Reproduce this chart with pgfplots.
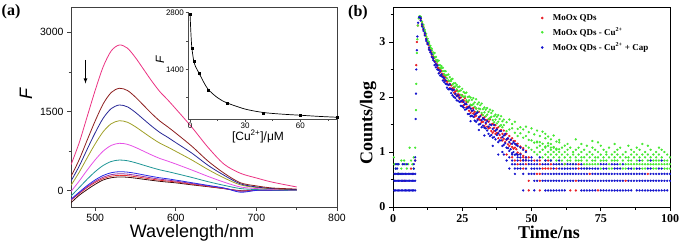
\documentclass[border=0pt]{standalone}
\usepackage{fontspec}
\setmainfont{Liberation Serif}
\newfontfamily\arial{Liberation Sans}
\usepackage{graphicx}
\usepackage{pgfplots}
\pgfplotsset{compat=1.18}
\usepackage{pgfplotstable}

\definecolor{c1}{RGB}{235,50,130}
\definecolor{c2}{RGB}{140,30,30}
\definecolor{c3}{RGB}{40,40,150}
\definecolor{c4}{RGB}{160,160,40}
\definecolor{c5}{RGB}{230,80,230}
\definecolor{c6}{RGB}{30,150,150}
\definecolor{c7}{RGB}{40,40,230}
\definecolor{c8}{RGB}{150,50,160}
\definecolor{c9}{RGB}{230,50,50}
\definecolor{c10}{RGB}{60,10,10}
\definecolor{mred}{RGB}{232,28,36}
\definecolor{mgreen}{RGB}{70,232,50}
\definecolor{mblue}{RGB}{20,20,205}

\pgfplotstableread{
w p1 p2 p3 p4 p5 p6 p7 p8 p9 p10
470 490 267 181 100 -16 -102 -162 -173 -181 -230
480 900 582 459 344 178 55 -31 -46 -58 -90
490 1400 955 782 620 388 215 95 74 58 20
500 1900 1321 1097 886 584 360 204 176 155 120
510 2350 1646 1374 1118 750 478 288 255 229 203
520 2650 1861 1556 1269 858 553 340 303 274 245
530 2760 1940 1623 1325 897 580 359 320 290 260
540 2700 1898 1588 1296 878 567 351 313 284 254
550 2520 1772 1482 1210 819 529 328 292 265 237
560 2300 1617 1352 1104 748 483 299 267 242 216
570 2080 1462 1223 998 676 437 270 241 218 196
580 1880 1322 1105 902 611 395 244 218 197 177
590 1720 1209 1011 826 559 361 224 200 181 162
600 1550 1090 910 745 505 325 200 180 165 148
620 1200 840 710 580 390 250 150 135 122 110
640 820 560 480 400 270 170 100 90 82 75
660 500 330 290 240 160 100 50 45 40 38
680 330 150 130 110 70 40 -30 -10 -5 0
700 240 90 70 60 40 20 5 5 5 5
720 160 50 40 35 25 15 10 8 8 8
750 70 30 20 15 10 5 5 5 5 5
}\spectra

\pgfplotstableread{
t a b
10 3.44 3.40
10.5 3.34 3.30
11 3.27 3.23
11.5 3.17 3.13
12 3.10 3.06
12.5 2.99 2.97
13 2.94 2.89
13.5 2.86 2.84
14 2.81 2.77
14.5 2.74 2.70
15 2.71 2.65
15.5 2.64 2.59
16 2.59 2.53
16.5 2.53 2.50
17 2.51 2.45
17.5 2.47 2.40
18 2.42 2.38
18.5 2.38 2.31
19 2.36 2.30
19.5 2.29 2.25
20 2.29 2.22
20.5 2.24 2.16
21 2.21 2.14
21.5 2.16 2.14
22 2.17 2.08
22.5 2.10 2.05
23 2.12 2.02
23.5 2.05 2.01
24 2.04 1.97
24.5 1.99 1.92
25 2.03 1.91
25.5 1.94 1.85
26 1.98 1.87
26.5 1.91 1.81
27 1.91 1.82
27.5 1.83 1.75
28 1.85 1.71
28.5 1.79 1.74
29 1.80 1.70
29.5 1.73 1.64
30 1.79 1.66
30.5 1.72 1.60
31 1.73 1.60
31.5 1.65 1.58
32 1.68 1.54
32.5 1.62 1.55
33 1.63 1.47
33.5 1.58 1.51
34 1.58 1.46
34.5 1.55 1.43
35 1.59 1.44
35.5 1.50 1.38
36 1.51 1.35
36.5 1.44 1.38
37 1.49 1.33
37.5 1.43 1.35
38 1.45 1.25
38.5 1.38 1.31
39 1.40 1.26
39.5 1.33 1.21
40 1.39 1.24
40.5 1.31 1.18
41 1.33 1.22
41.5 1.24 1.14
42 1.29 1.11
42.5 1.22 1.15
43 1.25 1.09
43.5 1.20 1.06
44 1.20 1.08
44.5 1.14 1.05
45 1.15 0.99
46 1.10 0.97
47 1.07 0.93
48 1.02 0.90
}\redD

\pgfplotstableread{
t a b
10 3.46 3.43
10.5 3.37 3.33
11 3.31 3.26
11.5 3.22 3.19
12 3.15 3.10
12.5 3.06 3.02
13 3.00 2.97
13.5 2.93 2.90
14 2.88 2.85
14.5 2.81 2.77
15 2.80 2.72
15.5 2.73 2.67
16 2.67 2.64
16.5 2.66 2.58
17 2.58 2.53
17.5 2.56 2.52
18 2.53 2.47
18.5 2.47 2.41
19 2.47 2.39
19.5 2.40 2.34
20 2.41 2.30
20.5 2.36 2.29
21 2.32 2.29
21.5 2.33 2.23
22 2.25 2.19
22.5 2.25 2.19
23 2.22 2.14
23.5 2.18 2.10
24 2.19 2.11
24.5 2.12 2.04
25 2.15 2.02
25.5 2.09 2.00
26 2.07 2.01
26.5 2.08 1.94
27 2.00 1.91
27.5 2.01 1.94
28 1.99 1.86
28.5 1.95 1.85
29 1.98 1.87
29.5 1.90 1.82
30 1.96 1.79
30.5 1.87 1.74
31 1.90 1.79
31.5 1.85 1.78
32 1.88 1.71
32.5 1.78 1.67
33 1.81 1.72
33.5 1.77 1.65
34 1.80 1.68
34.5 1.73 1.60
35 1.77 1.62
35.5 1.71 1.64
36 1.75 1.58
36.5 1.65 1.54
37 1.68 1.59
37.5 1.64 1.52
38 1.67 1.55
38.5 1.60 1.47
39 1.65 1.49
39.5 1.56 1.45
40 1.59 1.49
41 1.54 1.38
42 1.59 1.41
43 1.51 1.43
44 1.55 1.35
45 1.42 1.29
46 1.45 1.34
47 1.41 1.26
48 1.46 1.29
49 1.36 1.22
50 1.43 1.21
51 1.32 1.17
52 1.39 1.19
53 1.29 1.18
54 1.37 1.15
55 1.25 1.10
56 1.28 1.16
57 1.23 1.08
58 1.30 1.09
59 1.19 1.06
60 1.22 1.05
}\greenD

\pgfplotstableread{
t a b
10 3.43 3.39
10.5 3.32 3.28
11 3.24 3.20
11.5 3.16 3.12
12 3.05 3.02
12.5 2.98 2.96
13 2.90 2.86
13.5 2.84 2.81
14 2.78 2.73
14.5 2.71 2.67
15 2.64 2.58
15.5 2.60 2.54
16 2.57 2.50
16.5 2.49 2.43
17 2.47 2.39
17.5 2.41 2.38
18 2.36 2.30
18.5 2.34 2.27
19 2.30 2.24
19.5 2.23 2.17
20 2.22 2.14
20.5 2.23 2.14
21 2.15 2.07
21.5 2.12 2.03
22 2.13 2.00
22.5 2.06 1.98
23 2.02 1.94
23.5 2.03 1.93
24 1.99 1.91
24.5 1.92 1.84
25 1.94 1.83
25.5 1.91 1.81
26 1.87 1.77
26.5 1.87 1.78
27 1.80 1.69
27.5 1.82 1.69
28 1.79 1.65
28.5 1.75 1.66
29 1.76 1.64
29.5 1.68 1.57
30 1.70 1.55
30.5 1.72 1.58
31 1.63 1.50
31.5 1.65 1.51
32 1.58 1.45
32.5 1.61 1.48
33 1.59 1.44
33.5 1.53 1.43
34 1.56 1.39
34.5 1.46 1.33
35 1.50 1.29
35.5 1.49 1.31
36 1.42 1.26
36.5 1.49 1.27
37 1.39 1.23
37.5 1.41 1.31
38 1.34 1.18
38.5 1.38 1.21
39 1.38 1.21
39.5 1.27 1.11
40 1.30 1.13
40.5 1.33 1.16
41 1.23 1.08
41.5 1.25 1.07
42 1.18 1.02
42.5 1.22 1.05
43 1.15 0.98
43.5 1.18 1.00
44 1.15 0.95
44.5 1.13 0.96
45 1.11 0.95
46 1.08 0.90
47 1.04 0.85
48 1.00 0.85
}\blueD

\begin{document}
\begin{tikzpicture}[x=1pt,y=1pt]
\path[use as bounding box] (0pt,0pt) rectangle (680pt,242pt);

% ---------------- panel (a) ----------------
\begin{axis}[at={(71pt,35pt)}, anchor=south west, scale only axis,
  width=266pt, height=200pt,
  xmin=470, xmax=800, ymin=-310, ymax=3480,
  xtick={500,600,700,800}, minor xtick={550,650,750},
  ytick={0,1500,3000}, minor ytick={750,2250},
  tick align=outside, tick pos=left,
  major tick length=4pt, minor tick length=2.5pt,
  axis line style={black!75, line width=0.6pt},
  every tick/.style={black!75, line width=0.6pt},
  ticklabel style={font=\arial\fontsize{10.5}{12}\selectfont},
  /pgf/number format/assume math mode=true,
  /pgf/number format/1000 sep={}, scaled ticks=false]
\addplot[smooth, c10, line width=0.8pt] table[x=w,y=p10]{\spectra};
\addplot[smooth, c9, line width=0.8pt] table[x=w,y=p9]{\spectra};
\addplot[smooth, c8, line width=0.8pt] table[x=w,y=p8]{\spectra};
\addplot[smooth, c7, line width=0.8pt] table[x=w,y=p7]{\spectra};
\addplot[smooth, c6, line width=0.8pt] table[x=w,y=p6]{\spectra};
\addplot[smooth, c5, line width=0.8pt] table[x=w,y=p5]{\spectra};
\addplot[smooth, c4, line width=0.8pt] table[x=w,y=p4]{\spectra};
\addplot[smooth, c3, line width=0.8pt] table[x=w,y=p3]{\spectra};
\addplot[smooth, c2, line width=0.8pt] table[x=w,y=p2]{\spectra};
\addplot[smooth, c1, line width=0.8pt] table[x=w,y=p1]{\spectra};
\draw[-latex, line width=0.8pt] (axis cs:488,2480) -- (axis cs:488,2030);
\end{axis}

% inset
\begin{axis}[at={(188pt,123pt)}, anchor=south west, scale only axis,
  width=150pt, height=107.5pt,
  xmin=-1.1, xmax=80.5, ymin=175, ymax=2830,
  axis lines=left, axis line style={-, black!70, line width=0.6pt},
  xtick={0,30,60}, minor xtick={15,45,75},
  ytick={1400,2800}, minor ytick={700,2100},
  tick align=outside, major tick length=2.5pt, minor tick length=1.8pt,
  every tick/.style={black!70, line width=0.5pt},
  ticklabel style={font=\arial\fontsize{8}{9}\selectfont, inner sep=1.5pt},
  /pgf/number format/assume math mode=true,
  /pgf/number format/1000 sep={}, scaled ticks=false, clip=false]
\addplot[smooth, tension=0.5, black, line width=0.7pt] coordinates {
(0,2780)(0.5,2280)(1,1930)(2,1620)(3,1470)(5,1300)(7.5,1080)(10,900)(15,700)(20,575)(30,420)(40,335)(50,295)(60,268)(70,240)(80,218)};
\addplot[only marks, mark=square*, mark size=1pt, black] coordinates {
(0,2768)(1,1920)(2,1606)(5,1316)(10,891)(20,577)(40,328)(60,271)(80,214)};
\end{axis}

\node[font=\arial\fontsize{12}{13}\selectfont, anchor=base] at (258pt,102pt) {[Cu\textsuperscript{2+}]/μM};
\node[font=\arial\itshape\fontsize{12}{12}\selectfont, rotate=90] at (160pt,182pt) {F};
\node[font=\arial\itshape\fontsize{18}{18}\selectfont, rotate=90] at (26pt,148pt) {F};
\node[font=\arial\fontsize{18}{18}\selectfont, anchor=base] at (192pt,5pt) {Wavelength/nm};
\node[font=\bfseries\fontsize{16}{16}\selectfont] at (11pt,230pt) {(a)};

% ---------------- panel (b) ----------------
\begin{axis}[at={(393pt,35pt)}, anchor=south west, scale only axis,
  width=277pt, height=200pt,
  xmin=0, xmax=100, ymin=0, ymax=3.636,
  xtick={0,25,50,75,100}, minor xtick={12.5,37.5,62.5,87.5},
  ytick={0,1,2,3}, minor ytick={0.5,1.5,2.5,3.5},
  tick align=outside, tick pos=left,
  major tick length=4pt, minor tick length=2.5pt,
  axis line style={line width=0.8pt},
  every tick/.style={black, line width=0.8pt},
  ticklabel style={font=\bfseries\fontsize{12}{14}\selectfont},
  /pgf/number format/assume math mode=true,
  legend style={at={(0.525,0.975)}, anchor=north west, draw=none, fill=none,
    font=\bfseries\fontsize{9}{11}\selectfont, row sep=2pt, inner sep=0pt},
  legend cell align=left,
  legend image code/.code={\path (0,0) (0.42cm,0); \draw[#1, mark size=1.1pt] plot coordinates {(0.12cm,0cm)};},
  every axis plot/.append style={only marks, mark=*, mark size=0.95pt}]
% red
\addplot[mred, mark options={draw=mred, fill=mred}] table[x=t,y=a]{\redD};
\addlegendentry{MoOx QDs}
\addplot[mred, forget plot] table[x=t,y=b]{\redD};
\addplot[mred, forget plot] coordinates {
(2,.602)(4,.477)(6.5,.699)(7,.602)(8,.845)(8.4,2.58)(8.6,3.0)(9,3.3)(9.4,3.44)(9.7,3.46)
(49,.301)(53,.301)(64,.301)(66,.301)(74,.301)
(49,.477)(53,.477)(66,.477)(84,.477)
(52,.602)(53,.602)(71,.602)(92,.602)
(47,.699)(54,.699)(55,.699)(56,.699)(57,.699)(59,.699)(67,.699)
(45,.778)(48,.778)(53,.778)(57,.778)(62,.778)(67,.778)
(44,.845)(46,.845)(48,.845)(51,.845)(53,.845)(56,.845)
(43,.903)(47,.903)(49,.903)(41,.954)(45,.954)};
% green
\addplot[mgreen, mark options={draw=mgreen, fill=mgreen}] table[x=t,y=a]{\greenD};
\addlegendentry{MoOx QDs - Cu\textsuperscript{2+}}
\addplot[mgreen, forget plot] table[x=t,y=b]{\greenD};
\addplot[mgreen, forget plot] coordinates {
(0.3,.903)(0.5,.778)(1,.699)(1.5,.602)(2,.602)(2.5,.602)(1.5,.778)(2,.778)(3,.699)(3,.845)(3.5,.778)(4,.845)(4.5,.778)(5,.699)(5.5,.778)(6,1.079)(6.5,.845)(7,.778)(7.5,.903)(7.5,.699)(8,1.079)
(8.3,1.76)(8.4,2.24)(8.6,2.8)(8.8,3.05)(9,3.3)(9.3,3.43)(9.6,3.47)(9.8,3.46)
(70,.699)(75,.699)(78,.699)(79,.699)(83,.699)(84,.699)(87,.699)(90,.699)(91,.699)(94,.699)(95,.699)(98,.699)(99,.699)(100,.699)
(60,.778)(62,.778)(65,.778)(69,.778)(70,.778)(71,.778)(72,.778)(73,.778)(74,.778)(78,.778)(82,.778)(84,.778)(85,.778)(86,.778)(87,.778)(88,.778)(89,.778)(90,.778)(91,.778)(92,.778)(93,.778)(94,.778)(95,.778)(96,.778)(97,.778)(98,.778)(99,.778)(100,.778)
(55,.845)(57,.845)(59,.845)(61,.845)(63,.845)(64,.845)(66,.845)(67,.845)(68,.845)(70,.845)(72,.845)(73,.845)(75,.845)(76,.845)(77,.845)(79,.845)(80,.845)(81,.845)(83,.845)(85,.845)(86,.845)(88,.845)(90,.845)(92,.845)(94,.845)(95,.845)(96,.845)(98,.845)(99,.845)
(54,.903)(56,.903)(58,.903)(60,.903)(62,.903)(64,.903)(66,.903)(68,.903)(69,.903)(71,.903)(73,.903)(74,.903)(76,.903)(78,.903)(80,.903)(82,.903)(84,.903)(85,.903)(87,.903)(89,.903)(91,.903)(93,.903)(95,.903)(97,.903)(100,.903)
(52,.954)(55,.954)(57,.954)(59,.954)(61,.954)(63,.954)(65,.954)(67,.954)(70,.954)(72,.954)(75,.954)(77,.954)(79,.954)(81,.954)(83,.954)(86,.954)(88,.954)(90,.954)(92,.954)(94,.954)(96,.954)(99,.954)
(51,1)(53,1)(56,1)(58,1)(60,1)(62,1)(65,1)(68,1)(71,1)(74,1)(77,1)(80,1)(84,1)(87,1)(91,1)(95,1)(98,1)
(50,1.041)(54,1.041)(57,1.041)(59,1.041)(63,1.041)(66,1.041)(69,1.041)(73,1.041)(76,1.041)(81,1.041)(86,1.041)(89,1.041)(93,1.041)(97,1.041)
(49,1.079)(52,1.079)(55,1.079)(58,1.079)(61,1.079)(64,1.079)(67,1.079)(72,1.079)(78,1.079)(82,1.079)(88,1.079)(96,1.079)
(48,1.114)(53,1.114)(56,1.114)(62,1.114)(70,1.114)(75,1.114)(85,1.114)(92,1.114)
(57,1.146)(63,1.146)(68,1.146)(80,1.146)(90,1.146)(52,1.176)(60,1.176)(74,1.176)
(66,1.23)(72,1.2)(55,1.33)};
% blue
\addplot[mblue, mark options={draw=mblue, fill=mblue}] table[x=t,y=a]{\blueD};
\addlegendentry{MoOx QDs - Cu\textsuperscript{2+} + Cap}
\addplot[mblue, forget plot] table[x=t,y=b]{\blueD};
\addplot[mblue, forget plot] coordinates {
(0.5,.301)(1,.301)(1.5,.301)(2,.301)(2.5,.301)(3,.301)(3.5,.301)(4,.301)(4.5,.301)(5,.301)(5.5,.301)(6,.301)(6.5,.301)(7,.301)(7.5,.301)(8,.301)
(0.5,.477)(1,.477)(1.5,.477)(2,.477)(2.5,.477)(3,.477)(3.5,.477)(4,.477)(4.5,.477)(5,.477)(5.5,.477)(6,.477)(6.5,.477)(7,.477)(7.5,.477)(8,.477)
(0.5,.602)(1,.602)(1.5,.602)(2,.602)(2.5,.602)(3,.602)(3.5,.602)(4,.602)(4.5,.602)(5,.602)(5.5,.602)(6,.602)(6.5,.602)(7,.602)(7.5,.602)(8,.602)
(1,.699)(1.5,.699)(7.5,.699)(1,.778)(1.5,.778)(2,.778)(3.5,.778)(4,.778)(5,.778)(7.5,.778)(8,.845)(8,.903)
(8.2,1.6)(8.3,2.06)(8.4,2.5)(8.6,2.85)(8.8,3.1)(9.1,3.35)(9.4,3.45)(9.7,3.45)
(47,.301)(51,.301)(55,.301)(56,.301)(57,.301)(58,.301)(59,.301)(60,.301)(61,.301)(62,.301)(68,.301)(69,.301)(70,.301)(71,.301)(72,.301)(73,.301)(75,.301)(76,.301)(77,.301)(78,.301)(79,.301)(80,.301)(81,.301)(82,.301)(83,.301)(84,.301)(85,.301)(86,.301)(88,.301)(89,.301)(90,.301)(91,.301)(92,.301)(93,.301)(94,.301)(95,.301)(96,.301)(97,.301)(98,.301)(99,.301)
(51,.477)(52,.477)(54,.477)(55,.477)(56,.477)(57,.477)(58,.477)(59,.477)(60,.477)(61,.477)(62,.477)(63,.477)(64,.477)(65,.477)(67,.477)(68,.477)(69,.477)(70,.477)(71,.477)(72,.477)(73,.477)(74,.477)(75,.477)(76,.477)(77,.477)(78,.477)(79,.477)(80,.477)(81,.477)(82,.477)(83,.477)(85,.477)(86,.477)(87,.477)(88,.477)(89,.477)(90,.477)(91,.477)(92,.477)(93,.477)(94,.477)(95,.477)(96,.477)(97,.477)(98,.477)(99,.477)(100,.477)
(44,.602)(47,.602)(49,.602)(50,.602)(51,.602)(54,.602)(55,.602)(56,.602)(57,.602)(58,.602)(59,.602)(60,.602)(61,.602)(62,.602)(63,.602)(64,.602)(65,.602)(66,.602)(67,.602)(68,.602)(69,.602)(70,.602)(72,.602)(73,.602)(74,.602)(75,.602)(76,.602)(77,.602)(78,.602)(79,.602)(80,.602)(81,.602)(82,.602)(83,.602)(84,.602)(85,.602)(86,.602)(87,.602)(88,.602)(89,.602)(90,.602)(91,.602)(93,.602)(94,.602)(95,.602)(96,.602)(97,.602)(98,.602)(99,.602)(100,.602)
(42,.699)(44,.699)(45,.699)(46,.699)(48,.699)(50,.699)(51,.699)(52,.699)(53,.699)(58,.699)(60,.699)(61,.699)(62,.699)(63,.699)(64,.699)(65,.699)(66,.699)(68,.699)(69,.699)(70,.699)(71,.699)(72,.699)(73,.699)(74,.699)(76,.699)(77,.699)(80,.699)(81,.699)(82,.699)(85,.699)(86,.699)(88,.699)(89,.699)(92,.699)(93,.699)(96,.699)(97,.699)
(43,.778)(44,.778)(46,.778)(47,.778)(49,.778)(50,.778)(51,.778)(52,.778)(54,.778)(55,.778)(56,.778)(58,.778)(59,.778)(60,.778)(61,.778)(63,.778)(64,.778)(65,.778)(66,.778)(68,.778)(75,.778)(76,.778)(77,.778)(79,.778)(80,.778)(81,.778)(83,.778)
(41,.845)(43,.845)(45,.845)(47,.845)(49,.845)(50,.845)(52,.845)(55,.845)(57,.845)(60,.845)(89,.845)(93,.845)(97,.845)
(42,.903)(45,.903)(48,.903)(50,.903)(53,.903)(40,.954)(43,.954)(46,.954)
(38,.954)(39.5,1.0)(36,1.11)(33,1.3)(31,1.4)(28,1.56)};
\end{axis}

\node[font=\bfseries\fontsize{18}{18}\selectfont, rotate=90] at (368pt,119pt) {Counts/log};
\node[font=\bfseries\fontsize{18}{18}\selectfont, anchor=base] at (549pt,4pt) {Time/ns};
\node[font=\bfseries\fontsize{16}{16}\selectfont] at (358pt,229pt) {(b)};
\end{tikzpicture}
\end{document}
